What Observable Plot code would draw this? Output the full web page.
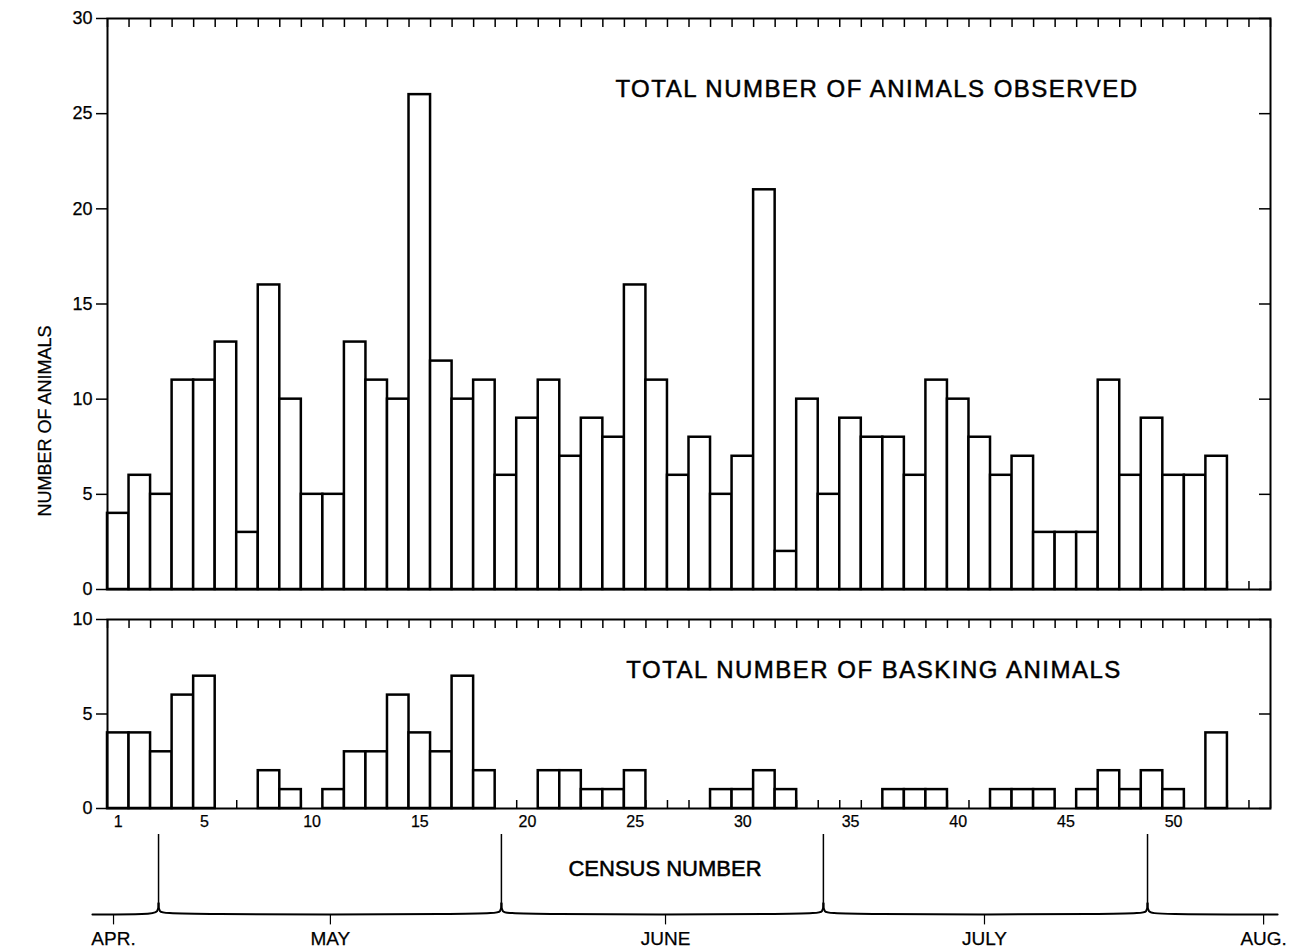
<!DOCTYPE html>
<html><head><meta charset="utf-8">
<script src="https://cdn.jsdelivr.net/npm/d3@7"></script>
<script src="https://cdn.jsdelivr.net/npm/@observablehq/plot@0.6"></script>
<style>
body{margin:0;background:#fff;}
#chart{position:relative;width:1293px;height:951px;background:#fff;}
#chart svg{position:absolute;left:0;}
</style></head><body><div id="chart"></div>
<script>
// ---- data ----
const census = d3.range(1, 53);
const totalObserved = [4,6,5,11,11,13,3,16,10,5,5,13,11,10,26,12,10,11,6,9,11,7,9,8,16,11,6,8,5,7,21,2,10,5,9,8,8,6,11,10,8,6,7,3,3,3,11,6,9,6,6,7];
const baskingAnimals = [4,4,3,6,7,0,0,2,1,0,1,3,3,6,4,3,7,2,0,0,2,2,1,1,2,0,0,0,1,1,2,1,0,0,0,0,1,1,1,0,0,1,1,1,0,1,2,1,2,1,0,4];
const censusTickLabels = [1,5,10,15,20,25,30,35,40,45,50];
const topYTicks = [0,5,10,15,20,25,30];
const bottomYTicks = [0,5,10];
const monthNames = ["APR.","MAY","JUNE","JULY","AUG."];
const monthTickCensus = [0.78,10.85,26.41,41.22,54.18];
const monthBoundaryCensus = [2.87,18.79,33.74,48.79];
const timelineExtent = [-0.2, 54.83];
const titles = ["TOTAL NUMBER OF ANIMALS OBSERVED","TOTAL NUMBER OF BASKING ANIMALS"];
const yLabel = "NUMBER OF ANIMALS";
const xLabel = "CENSUS NUMBER";

// ---- shared ----
const FONT = '"Liberation Sans", Arial, "DejaVu Sans", sans-serif';
const W = 1293, ML = 107, MR = 23;
const xDomain = [0.5, 54.5];
const boundaries = d3.range(0.5, 55, 1);
const blank = () => "";
const baseStyle = {background:"transparent", overflow:"visible", fontFamily: FONT, fontSize:"16px", color:"black"};
const topData = census.map((c,i)=>({census:c, value: totalObserved[i]}));
const botData = census.map((c,i)=>({census:c, value: baskingAnimals[i]})).filter(d => d.value > 0);
const barOpts = {x1: d => d.census - 0.5, x2: d => d.census + 0.5, y: "value", fill:"white", stroke:"black", strokeWidth:2.5};

const chart = document.getElementById("chart");

// ---- top panel ----
const p1 = Plot.plot({
  width: W, height: 600, marginLeft: ML, marginRight: MR, marginTop: 18, marginBottom: 11,
  x: {domain: xDomain, axis: null},
  y: {domain: [0, 30], axis: null},
  style: baseStyle,
  marks: [
    Plot.axisX(boundaries, {anchor:"bottom", tickSize:-8, tickFormat: blank, strokeWidth:1.5, label:null}),
    Plot.rectY(topData, barOpts),
    Plot.axisX(boundaries, {anchor:"top", tickSize:-8, tickFormat: blank, strokeWidth:1.5, label:null}),
    Plot.axisY(topYTicks, {anchor:"left", tickSize:11, tickPadding:4, fontSize:18, strokeWidth:1.5, label:null}),
    Plot.axisY(topYTicks, {anchor:"right", tickSize:-12, tickFormat: blank, strokeWidth:1.5, label:null}),
    Plot.frame({stroke:"black", strokeWidth:2}),
    Plot.text([titles[0]], {text: d => d, frameAnchor:"top", dx:188, dy:71, lineAnchor:"middle", fontSize:24}),
    Plot.text([yLabel], {text: d => d, frameAnchor:"left", textAnchor:"middle", dx:-62, dy:117, rotate:-90, lineAnchor:"middle", fontSize:18})
  ]
});
p1.style.top = "0px";
chart.appendChild(p1);

// ---- bottom panel ----
const p2 = Plot.plot({
  width: W, height: 240, marginLeft: ML, marginRight: MR, marginTop: 19, marginBottom: 32,
  x: {domain: xDomain, axis: null},
  y: {domain: [0, 10], axis: null},
  style: baseStyle,
  marks: [
    Plot.axisX(boundaries, {anchor:"bottom", tickSize:-8, tickFormat: blank, strokeWidth:1.5, label:null}),
    Plot.rectY(botData, barOpts),
    Plot.axisX(boundaries, {anchor:"top", tickSize:-8, tickFormat: blank, strokeWidth:1.5, label:null}),
    Plot.axisX(censusTickLabels, {anchor:"bottom", tickSize:0, tickPadding:7, fontSize:16, label:null}),
    Plot.axisY(bottomYTicks, {anchor:"left", tickSize:11, tickPadding:4, fontSize:18, strokeWidth:1.5, label:null}),
    Plot.axisY(bottomYTicks, {anchor:"right", tickSize:-12, tickFormat: blank, strokeWidth:1.5, label:null}),
    Plot.frame({stroke:"black", strokeWidth:2}),
    Plot.text([titles[1]], {text: d => d, frameAnchor:"top", dx:185, dy:51, lineAnchor:"middle", fontSize:24})
  ]
});
p2.style.top = "600px";
chart.appendChild(p2);

// ---- month timeline ----
const cuspH = 0.14;
const ends = [timelineExtent[0], ...monthBoundaryCensus, timelineExtent[1]];
const segPts = [];
for (let i = 0; i < ends.length - 1; i++) {
  const a = ends[i], b = ends[i+1];
  if (i > 0) segPts.push({seg:i, x:a, y:cuspH}, {seg:i, x:a, y:0.03}, {seg:i, x:a+0.4, y:0});
  else segPts.push({seg:i, x:a, y:0});
  if (i < ends.length - 2) segPts.push({seg:i, x:b-0.4, y:0}, {seg:i, x:b, y:0.03}, {seg:i, x:b, y:cuspH});
  else segPts.push({seg:i, x:b, y:0});
}
const months = monthNames.map((m,i)=>({name:m, at: monthTickCensus[i]}));
const p3 = Plot.plot({
  width: W, height: 121, marginLeft: ML, marginRight: MR, marginTop: 4, marginBottom: 13,
  x: {domain: xDomain, axis: null},
  y: {domain: [-0.3, 1], axis: null},
  style: baseStyle,
  marks: [
    Plot.line(segPts, {x:"x", y:"y", z:"seg", curve:"basis", stroke:"black", strokeWidth:2}),
    Plot.ruleX(monthBoundaryCensus, {y1: cuspH, y2: 1, stroke:"black", strokeWidth:1.5}),
    Plot.ruleX(monthTickCensus, {y1: 0, y2: -0.13, stroke:"black", strokeWidth:1.2}),
    Plot.text(months, {x:"at", text:"name", frameAnchor:"bottom", lineAnchor:"middle", fontSize:19}),
    Plot.text([xLabel], {text: d => d, frameAnchor:"top", dx:-24, dy:34, lineAnchor:"middle", fontSize:22})
  ]
});
p3.style.top = "830px";
chart.appendChild(p3);

// letter spacing & pen-like weight for the lettering
const bigTexts = [...titles, xLabel];
d3.selectAll("#chart text").attr("stroke","black").attr("paint-order","stroke").attr("stroke-width",0.25);
d3.selectAll("#chart text").filter(function(){ return bigTexts.includes(this.textContent); }).attr("stroke-width",0.5);
d3.selectAll("#chart text").filter(function(){ return titles.includes(this.textContent); }).attr("letter-spacing","1.5px");
</script></body></html>
